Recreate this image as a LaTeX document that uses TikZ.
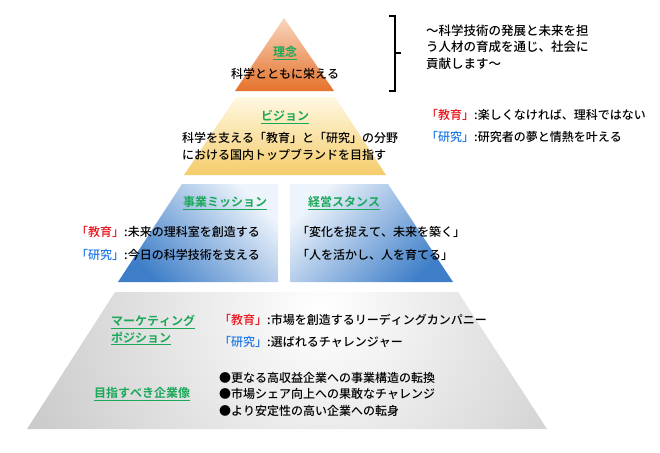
\documentclass[tikz,border=0pt]{standalone}
\usepackage{fontspec}
\setmainfont{Noto Sans CJK JP}[UprightFont={Noto Sans CJK JP Medium}, BoldFont={Noto Sans CJK JP Bold}, Kerning=Off, RawFeature={-chws}]
\usepackage{tikz}
\usetikzlibrary{positioning}
\definecolor{headgreen}{HTML}{1BA85A}
\definecolor{kyored}{HTML}{E8141E}
\definecolor{kenblue}{HTML}{1E78E6}
\definecolor{rinenTop}{HTML}{F9D6BE}
\definecolor{rinenBot}{HTML}{E5722C}
\definecolor{visionTop}{HTML}{FFF8E2}
\definecolor{visionBot}{HTML}{F4CC6A}
\definecolor{missionLight}{HTML}{EEF4FB}
\definecolor{missionDark}{HTML}{3E7EC8}
\newcommand*{\kyoiku}{{\color{kyored}「教育」}}
\newcommand*{\kenkyu}{{\color{kenblue}「研究」}}
\tikzset{
  head/.style={font=\fontsize{12}{17}\selectfont\bfseries, text=headgreen, inner sep=0pt},
  body/.style={font=\fontsize{12}{16.5}\selectfont, inner sep=0pt},
}

\begin{document}
\begin{tikzpicture}[x=1pt,y=-1pt,node distance=17pt,on grid]
    \useasboundingbox (0,0) rectangle (660,452);
    % pyramid layers
    \shade[top color=rinenTop, bottom color=rinenBot] (284,18) -- (334,91) -- (235,91) -- cycle;
    \shade[top color=visionTop, bottom color=visionBot] (236,97) -- (335,97) -- (386,175) -- (184,175) -- cycle;
    \shade[top color=missionLight, bottom color=missionDark, shading angle=-45] (182,184) -- (278,184) -- (278,282) -- (118,282) -- cycle;
    \shade[top color=missionLight, bottom color=missionDark, shading angle=45] (290,184) -- (388,184) -- (453,282) -- (290,282) -- cycle;
    \begin{scope}
        \clip (115,292) -- (458,292) -- (547,429) -- (27,429) -- cycle;
        \shade[inner color=white, outer color=black!40] (320,310) circle (600);
    \end{scope}
    % bracket
    \draw[line width=1.2pt] (389,16) -- (395,16) -- (395,91) -- (389,91);
    \draw[line width=1.2pt] (395,53) -- (401,53);

    \node[head] (rinen) at (285,53) {\underline{理念}};
    \node[body] (rinenTxt) [below=21pt of rinen] {科学とともに栄える};
    \node[body, anchor=west, align=left, font=\fontsize{12.5}{16.5}\selectfont] (rinenNote) at (426,47)
        {～科学技術の発展と未来を担\\う人材の育成を通じ、社会に\\貢献します～};

    \node[head] (vision) at (285,117) {\underline{ビジョン}};
    \node[body, anchor=west] (visionA) at (182,138) {科学を支える「教育」と「研究」の分野};
    \node[body] (visionB) [below=17pt of visionA.west, anchor=west] {における国内トップブランドを目指す};
    \node[body, anchor=west] (visionKyo) at (426,115) {\kyoiku:楽しくなければ、理科ではない};
    \node[body] (visionKen) [below=22pt of visionKyo.west, anchor=west] {\kenkyu:研究者の夢と情熱を叶える};

    \node[head] (mission) at (225,203) {\underline{事業ミッション}};
    \node[head] (stance) at (344,203) {\underline{経営スタンス}};
    \node[body, anchor=west] (missionKyo) at (76,232) {\kyoiku:未来の理科室を創造する};
    \node[body] (missionKen) [below=23pt of missionKyo.west, anchor=west] {\kenkyu:今日の科学技術を支える};
    \node[body, anchor=west] (stanceA) at (297,232) {「変化を捉えて、未来を築く」};
    \node[body] (stanceB) [below=23pt of stanceA.west, anchor=west] {「人を活かし、人を育てる」};

    \node[head, anchor=west, align=left] (position) at (111,330) {\underline{マーケティング}\\\underline{ポジション}};
    \node[body, anchor=west] (posKyo) at (219,320) {\kyoiku:市場を創造するリーディングカンパニー};
    \node[body] (posKen) [below=22pt of posKyo.west, anchor=west] {\kenkyu:選ばれるチャレンジャー};
    \node[head] (goal) at (142,394) {\underline{目指すべき企業像}};
    \node[body, anchor=west, align=left] (goalList) at (219,394)
        {●更なる高収益企業への事業構造の転換\\●市場シェア向上への果敢なチャレンジ\\●より安定性の高い企業への転身};
\end{tikzpicture}
\end{document}
